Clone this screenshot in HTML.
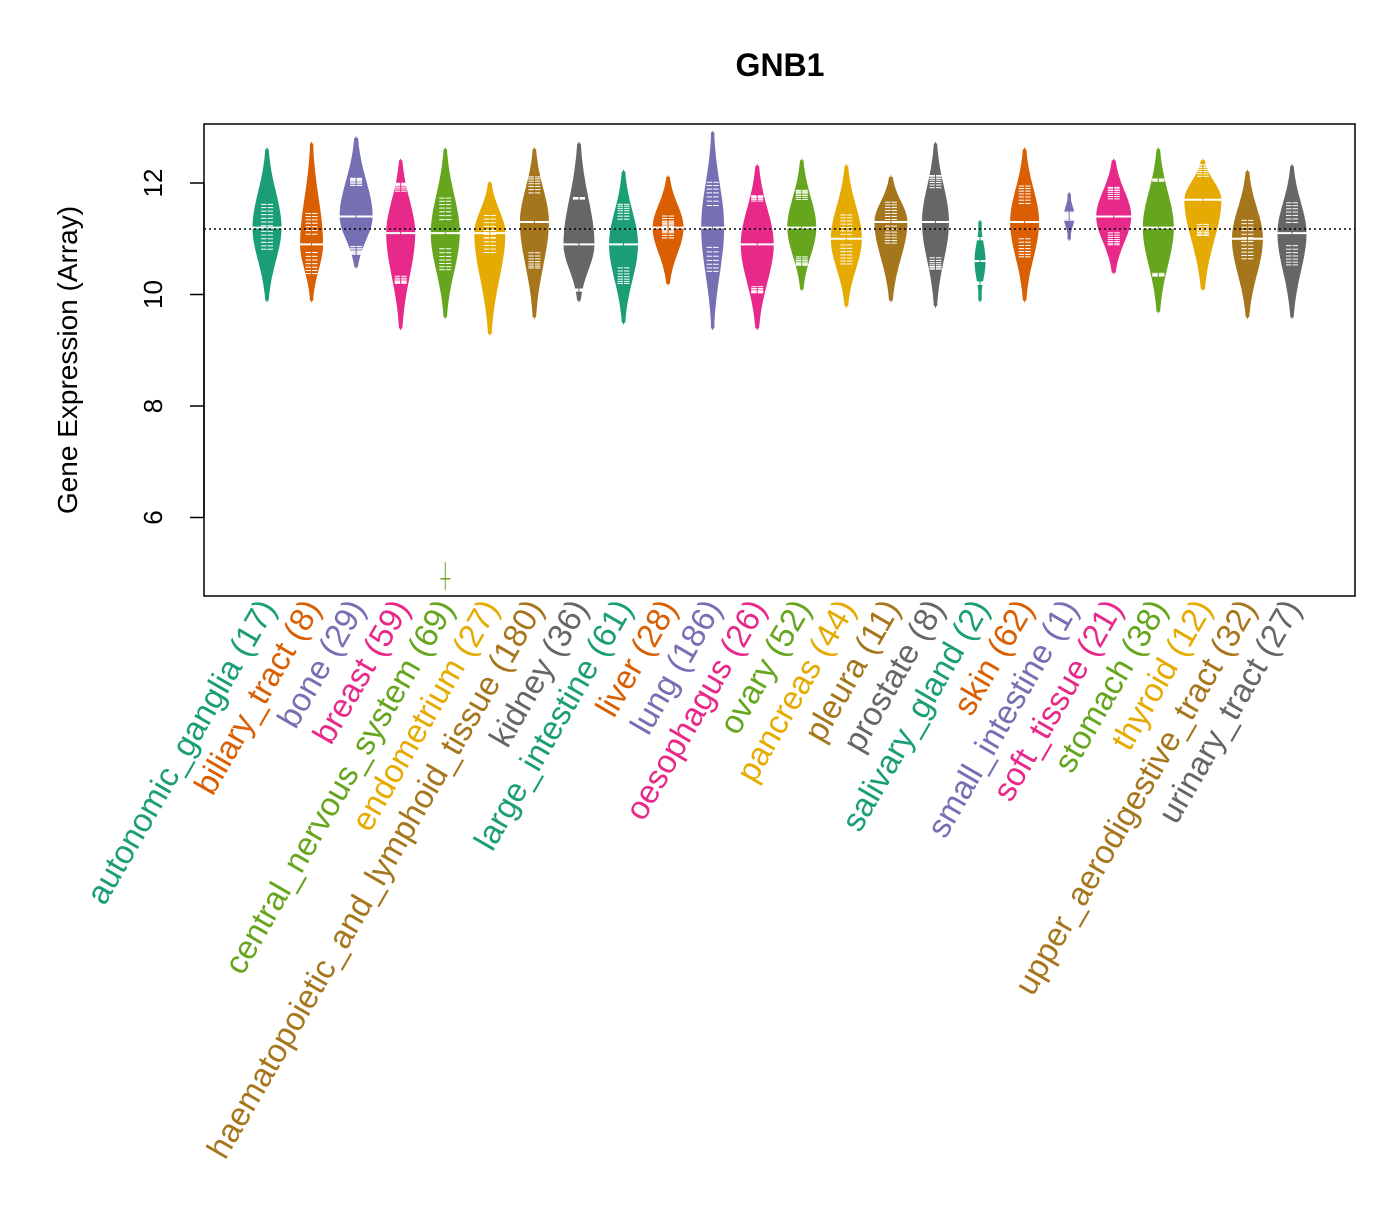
<!DOCTYPE html>
<html><head><meta charset="utf-8"><style>
html,body{margin:0;padding:0;background:#fff;}
svg text{font-family:"Liberation Sans",Arial,sans-serif;}
</style></head><body>
<svg id="s" width="1400" height="1200" xmlns="http://www.w3.org/2000/svg">
<rect x="0" y="0" width="1400" height="1200" fill="#fff"/>
<text x="780" y="76" font-size="32" font-weight="bold" text-anchor="middle">GNB1</text>
<text transform="translate(77,360) rotate(-90)" font-size="28" text-anchor="middle">Gene Expression (Array)</text>
<g id="ax"></g>
<g id="v"></g>
<rect x="204" y="124" width="1151" height="472" fill="none" stroke="#000" stroke-width="1.5"/>
<line x1="204" y1="229" x2="1355" y2="229" stroke="#000" stroke-width="1.5" stroke-dasharray="2,3"/>
<g id="lab"></g>
</svg>
<script>
var NS="http://www.w3.org/2000/svg";
function Y(v){return 183+(12-v)*55.75;}
function el(t,a,p,txt){var e=document.createElementNS(NS,t);for(var k in a)e.setAttribute(k,a[k]);if(txt)e.textContent=txt;p.appendChild(e);return e;}
var ax=document.getElementById('ax');
[6,8,10,12].forEach(function(v){var y=Y(v);el('line',{x1:190,y1:y,x2:204,y2:y,stroke:'#000','stroke-width':1.5},ax);
el('text',{transform:'translate(162,'+y+') rotate(-90)','font-size':26,'text-anchor':'middle'},ax,String(v));});
el('line',{x1:204,y1:Y(6),x2:204,y2:Y(12),stroke:'#000','stroke-width':1.5},ax);
var cols=["#1B9E77","#D95F02","#7570B3","#E7298A","#66A61E","#E6AB02","#A6761D","#666666"];
var d=[["autonomic_ganglia (17)",9.9,12.6,11.2,14],["biliary_tract (8)",9.9,12.7,10.9,11],["bone (29)",10.5,12.8,11.4,16],["breast (59)",9.4,12.4,11.1,14],
["central_nervous_system (69)",9.6,12.6,11.1,14],["endometrium (27)",9.3,12.0,11.1,15],["haematopoietic_and_lymphoid_tissue (180)",9.6,12.6,11.3,14],["kidney (36)",9.9,12.7,10.9,15],
["large_intestine (61)",9.5,12.2,10.9,14],["liver (28)",10.2,12.1,11.2,15],["lung (186)",9.4,12.9,11.2,11],["oesophagus (26)",9.4,12.3,10.9,16],
["ovary (52)",10.1,12.4,11.2,14],["pancreas (44)",9.8,12.3,11.0,15],["pleura (11)",9.9,12.1,11.3,16],["prostate (8)",9.8,12.7,11.3,13],
["salivary_gland (2)",9.9,11.3,10.6,5],["skin (62)",9.9,12.6,11.3,14],["small_intestine (1)",11.0,11.8,11.4,5],["soft_tissue (21)",10.4,12.4,11.4,17],
["stomach (38)",9.7,12.6,11.2,15],["thyroid (12)",10.1,12.4,11.7,18],["upper_aerodigestive_tract (32)",9.6,12.2,11.0,15],["urinary_tract (27)",9.6,12.3,11.1,14]];
var vg=document.getElementById('v'),lg=document.getElementById('lab');
d.forEach(function(r,i){
 var x=267+i*44.565,c=cols[i%8],lo=r[1],hi=r[2],m=r[3],w=r[4];
 var pts=[],n=40;
 for(var k=0;k<=n;k++){var v=lo+(hi-lo)*k/n;var s=(v<m)?(m-lo)/2.2:(hi-m)/2.2;var h=w*Math.exp(-0.5*Math.pow((v-m)/s,2));h=Math.max(h,1.2);pts.push([x+h,Y(v)]);}
 var p="M"+x+","+Y(lo);pts.forEach(function(q){p+=" L"+q[0].toFixed(1)+","+q[1].toFixed(1);});
 p+=" L"+x+","+Y(hi);for(var k=n;k>=0;k--){p+=" L"+(2*x-pts[k][0]).toFixed(1)+","+pts[k][1].toFixed(1);}p+="Z";
 el('path',{d:p,fill:c,stroke:c,'stroke-width':1},vg);
 for(var k=0;k<14;k++){var v=m+(Math.sin(i*7+k*3.1))*(hi-lo)*0.3;var yy=Y(v);el('line',{x1:x-6,y1:yy,x2:x+6,y2:yy,stroke:'#fff','stroke-width':1},vg);}
 el('line',{x1:x-w-2,y1:Y(m),x2:x+w+2,y2:Y(m),stroke:'#fff','stroke-width':2},vg);
 el('line',{x1:x,y1:Y(hi)-2,x2:x,y2:Y(lo)+2,stroke:c,'stroke-width':1},vg);
 el('text',{transform:'translate('+(x+10)+',608) rotate(-60)','font-size':33,'text-anchor':'end',fill:c},lg,r[0]);
});
var xo=267+4*44.565;el('line',{x1:xo-5,y1:Y(4.9),x2:xo+5,y2:Y(4.9),stroke:cols[4],'stroke-width':1.5},vg);
el('line',{x1:xo,y1:Y(5.2),x2:xo,y2:Y(4.7),stroke:cols[4],'stroke-width':1},vg);
</script>
</body></html>
